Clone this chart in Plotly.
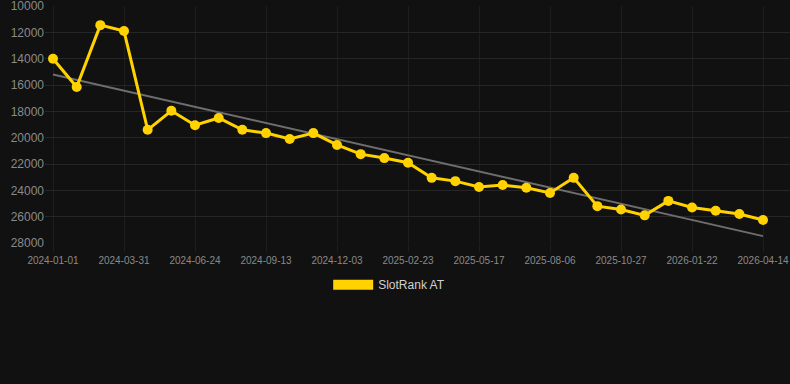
import numpy as np
import plotly.graph_objects as go

dates = [
    "2024-01-01", "2024-01-31", "2024-03-01", "2024-03-31", "2024-04-29", "2024-05-27",
    "2024-06-24", "2024-07-21", "2024-08-17", "2024-09-13", "2024-10-10", "2024-11-06",
    "2024-12-03", "2024-12-30", "2025-01-27", "2025-02-23", "2025-03-23", "2025-04-20",
    "2025-05-17", "2025-06-13", "2025-07-10", "2025-08-06", "2025-09-02", "2025-09-30",
    "2025-10-27", "2025-11-25", "2025-12-24", "2026-01-22", "2026-02-19", "2026-03-18",
    "2026-04-14",
]
rank = [
    14000, 16150, 11450, 11900, 19400, 17950, 19050, 18500, 19400, 19650, 20100,
    19650, 20550, 21250, 21550, 21900, 23050, 23300, 23750, 23600, 23800, 24200,
    23050, 25200, 25450, 25900, 24800, 25300, 25550, 25800, 26250,
]
tick_labels = dates[::3]
y_ticks = [10000, 12000, 14000, 16000, 18000, 20000, 22000, 24000, 26000, 28000]

idx = np.arange(len(rank))
slope, intercept = np.polyfit(idx, rank, 1)
trend = list(slope * idx + intercept)

fig = go.Figure()
fig.add_trace(go.Scatter(
    x=dates, y=trend, mode="lines",
    line=dict(color="#6e6e6e", width=2), showlegend=False, hoverinfo="skip",
))
fig.add_trace(go.Scatter(
    x=dates, y=rank, mode="lines+markers", name="SlotRank AT",
    line=dict(color="#FFD200", width=3), marker=dict(size=10, color="#FFD200"),
    showlegend=False,
))
fig.add_trace(go.Scatter(
    x=[None], y=[None], mode="lines", name="SlotRank AT",
    line=dict(color="#FFD200", width=12), showlegend=True,
))

n = len(dates)
fig.update_layout(
    width=790, height=384,
    paper_bgcolor="#111111", plot_bgcolor="#111111",
    margin=dict(l=45, r=0, t=6, b=141, autoexpand=False),
    font=dict(family="Liberation Sans, Arial, sans-serif", color="#8a8a8a"),
    xaxis=dict(
        type="category", categoryorder="array", categoryarray=dates,
        range=[-0.338, n - 1 + 1.14],
        tickvals=tick_labels, ticktext=tick_labels, tickangle=0,
        showgrid=True, gridcolor="#1e1e1e", gridwidth=1,
        zeroline=False, showline=False,
        ticks="outside", ticklen=8, tickcolor="#1e1e1e",
        tickfont=dict(size=10, color="#8a8a8a"),
    ),
    yaxis=dict(
        range=[28000, 9995], tickvals=y_ticks,
        ticktext=[str(v) for v in y_ticks],
        showgrid=True, gridcolor="#262626", gridwidth=1,
        zeroline=False, showline=False, ticks="",
        ticklabeloverflow="allow",
        tickfont=dict(size=12, color="#8a8a8a"),
    ),
    legend=dict(
        orientation="h", x=0.462, xanchor="center",
        y=-0.115, yanchor="top", itemwidth=40,
        font=dict(size=12, color="#d0d0d0"), bgcolor="rgba(0,0,0,0)",
    ),
    showlegend=True,
)

fig.write_html("out.html")
